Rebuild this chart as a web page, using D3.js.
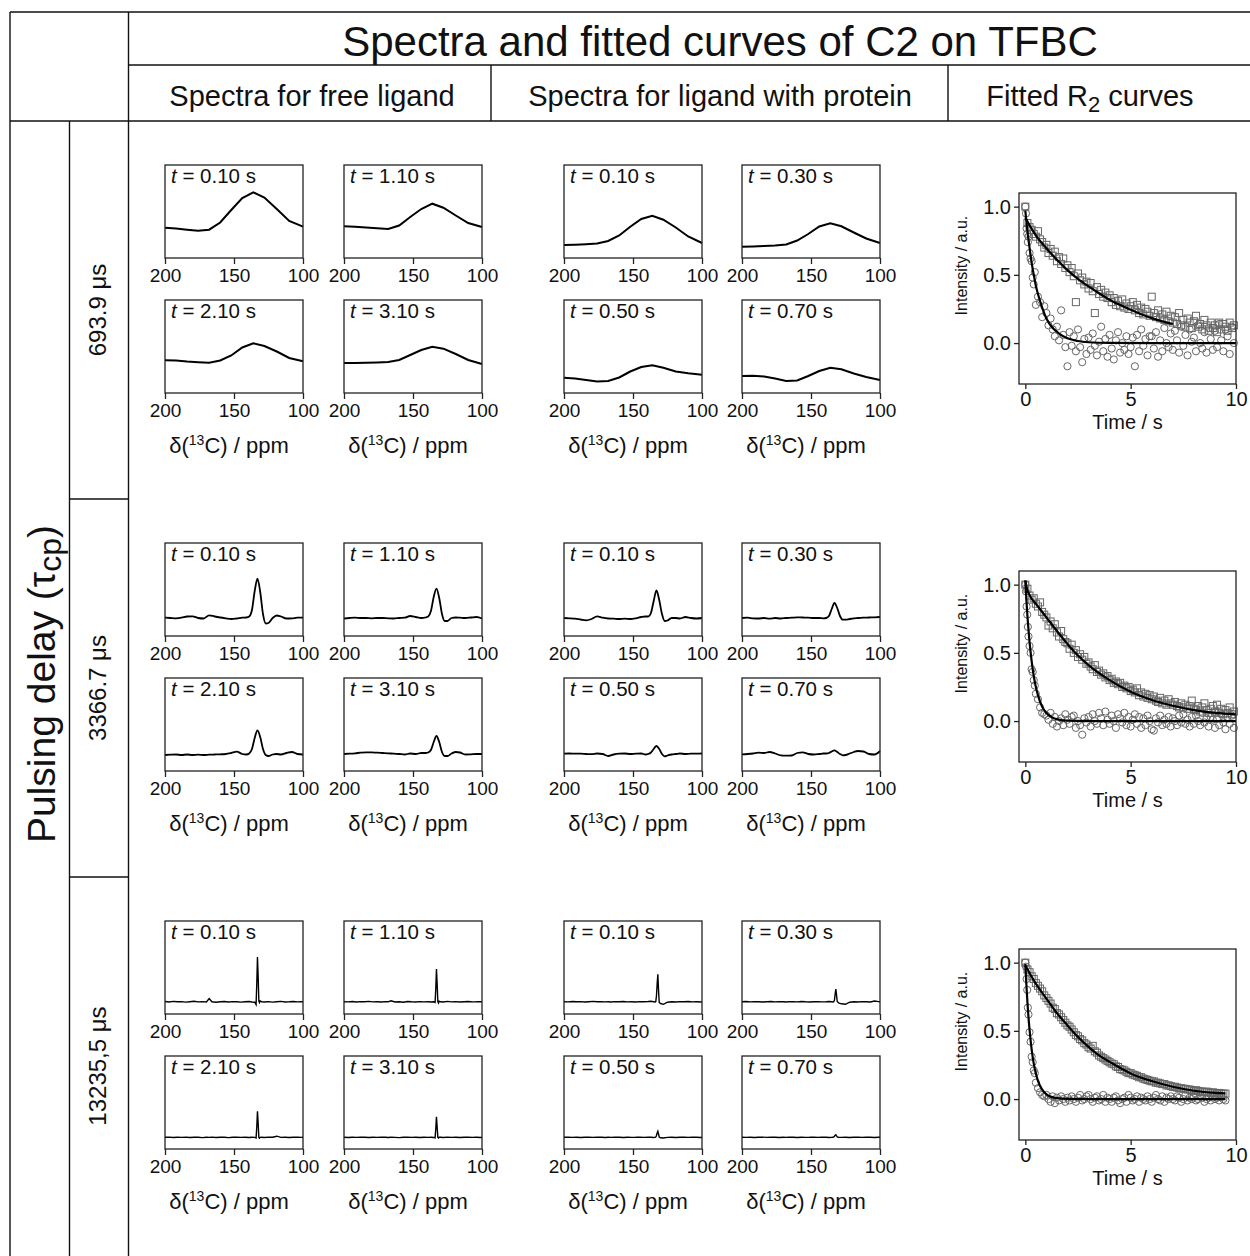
<!DOCTYPE html>
<meta charset="utf-8">
<script src="https://cdn.jsdelivr.net/npm/d3@7"></script>

<style type="text/css">
body {
  margin: 0;
  background: #fff;
  font-family: "Liberation Sans", Arial, sans-serif;
}
text { fill: #111; }
.frame line { stroke: #111; stroke-width: 1.4px; }
.box { fill: none; stroke: #222; stroke-width: 1.3px; }
.spec { fill: none; stroke: #000; }
.axis path { display: none; }
.axis line { stroke: #222; stroke-width: 1.3px; }
.axis text { font-size: 19px; font-family: "Liberation Sans", Arial, sans-serif; fill: #111; }
.r2axis text { font-size: 20px; }
.pt { fill: none; stroke: #666; stroke-width: 1px; }
.fit { fill: none; stroke: #000; stroke-width: 2.2px; }
</style>

<body>
<script>

// ---- data ----
var DELAYS = ["693.9 μs", "3366.7 μs", "13235,5 μs"];
var FREE_TIMES = ["0.10", "1.10", "2.10", "3.10"];
var PROT_TIMES = ["0.10", "0.30", "0.50", "0.70"];

// chemical shift grids (ppm) for each pulsing delay
var PPM_R1 = [200,192,184,176,168,160,152,144,136,128,119,110,100];
var PPM_R2 = [200,196,192,188,184,180,176,172,168,164,160,156,152,148,144,141,139,137,135,133,131,129,127,125,122,119,116,112,108,104,100];
var PPM_R3 = [200,197,194,191,188,185,182,179,176,173,170,168,166,163,160,157,154,151,148,145,142,139,137,135,134,133.5,133,132.5,132,131.5,131,130,128,125,122,119,116,113,110,107,104,101,100];

// spectrum intensities (a.u.; 0 = frame bottom, 93 = frame top)
var FREE_R1 = [
  [30.3,29.5,28.3,27.3,28.3,35.5,48,60,65.7,60.5,49,37,31.3],
  [31.7,31.2,30.5,29.8,29,32.5,41,49,54.3,50.3,42.5,35,31],
  [32.7,32.5,31.5,30.8,30.3,32.5,37.5,45.5,49.7,47,41.5,35,31.7],
  [30,30,30.2,30.5,31,33,38,43,46.3,44.3,39,33,29]
];
var PROT_R1 = [
  [13,13.3,13.8,14.5,17,22.5,31.3,39,42.3,38.3,30.5,21.5,15],
  [11.3,11.6,12,12.5,13.5,17.5,24,31.5,34.7,31.7,25.5,19.5,15],
  [15.3,14.5,13,11.5,12,15.5,21.5,26,27.7,25.3,21.5,19.7,18.3],
  [17,17.3,16.5,14.5,12,12.5,17,22,25.3,23.7,19.5,16,13]
];
var FREE_R2 = [
  [18.3,18,17.7,18.3,19.5,19.7,18,17.5,20.7,19.5,18.5,17.7,17,17.5,18.3,18.5,19.5,26,45,57.3,44,22,12.5,13,18,20.5,19.5,17.5,17.7,18.3,18.3],
  [17.5,18,18.3,18,18,17.7,18,18,17.7,17.5,18,18.3,20,19,18,18.5,19.5,25,39,47.3,38,22,15,15,18,18.5,18.3,18,18.5,19,17.5],
  [16,16.3,16.5,16,16.5,16,16.3,16,16.3,16.5,16.7,17,18,19.3,17,16.5,17.5,22,33,40.7,34,22,16,15,16.5,17,16.5,18,19,17,16.5],
  [17,17.3,17.7,18.3,18.7,18.7,18.3,18,17.7,17.3,17,16.5,17.5,17,18,18,18.5,21,29,35,29,19,15,15,17.5,19,18.5,16.5,16.7,17,17]
];
var PROT_R2 = [
  [18,17.7,17.3,16.5,15.7,17,19.7,18.3,17.5,17.3,17,17.3,17,17.7,19,19.5,19.5,23,35,45.7,36,22,15,15.5,18,18,17.5,19,18,17.5,18],
  [18,18.3,17.7,17.5,18,17.3,18,17.5,18,18.3,18.7,18.5,18.3,18,18,17.7,18,20,27,33,28,20,16.3,16.3,17,17.7,18,18.3,18.5,18.7,19],
  [17.3,17.5,17.3,17.3,17,16.8,17.5,17,15,16.5,17.3,17.5,17,17.3,17.5,16.5,17,18.5,22,25,22,17,14.7,15.5,16.5,17,17.5,17,17.3,17.3,17.5],
  [16.7,17,17.5,18.3,18,19,17.5,15.7,15.3,15.5,18,18.7,17,16.5,17,17.5,17.5,18,19.5,20.7,19,17,15.7,16,17.5,19,20,19.5,17,16.5,20]
];
var FREE_R3 = [
  [12.5,12.0,12.6,12.2,12.4,11.9,12.3,12.7,12.1,12.4,12.0,15.5,12.2,11.8,12.3,12.5,12.0,12.4,12.2,11.9,12.3,12.5,12.0,11.8,9.5,30,57,38,13,11.5,13.0,12.3,12.0,12.4,11.9,12.3,12.6,12.0,12.2,12.5,12.1,12.4,12.3],
  [12.3,12.1,12.5,12.0,12.4,12.2,12.6,12.1,12.3,12.0,12.4,12.2,13.2,12.0,12.3,11.8,12.5,12.2,12.0,12.4,12.1,12.3,12.0,12.2,11.5,25,45,30,12.5,11.0,12.8,12.2,12.0,12.6,12.1,12.4,12.0,12.3,12.5,12.1,12.2,12.4,12.0],
  [11.7,11.9,11.5,11.8,11.6,11.9,11.5,11.8,11.7,11.4,11.8,11.6,11.9,11.5,11.7,11.8,11.4,11.7,11.9,11.6,11.8,11.5,11.7,11.6,11.0,22,37.7,26,11.5,10.8,11.6,11.8,11.5,11.9,11.7,12.8,11.6,11.8,11.5,11.7,11.9,11.6,11.7],
  [11.7,11.5,11.8,11.6,11.9,11.7,11.5,11.8,11.6,11.9,11.7,11.5,11.8,11.6,11.4,11.7,11.9,11.6,11.8,11.5,11.7,11.6,11.8,11.5,11.2,20,32.3,22,11.6,11.0,11.7,11.8,11.5,11.9,11.6,11.8,11.5,11.7,11.9,11.6,11.8,11.5,11.7]
];
var PROT_R3 = [
  [12.3,12.1,12.5,12.2,12.4,12.0,12.3,12.6,12.2,12.4,12.1,12.3,12.0,12.4,12.2,12.5,12.1,12.3,12.0,12.4,12.2,12.5,12.8,12.3,12.0,12.5,18,30,39.7,24,11.5,10.5,9.7,11.8,12.3,12.0,12.4,12.2,12.5,12.1,12.3,12.0,12.4],
  [12.3,12.5,12.1,12.4,12.2,12.0,12.3,12.5,12.1,12.4,12.2,12.0,12.4,12.3,12.1,12.5,12.2,12.0,12.3,12.4,12.1,12.3,12.5,12.2,12.0,12.3,14,20,25,19,12.5,11.0,10.2,9.7,11.8,12.2,12.0,12.4,12.2,12.0,13.0,12.4,12.3],
  [11.7,11.9,11.6,11.8,11.5,11.7,11.9,11.6,11.8,11.7,11.5,11.8,11.6,11.9,11.7,11.5,11.8,11.6,11.7,11.9,11.6,11.8,11.7,11.5,11.6,12.0,13.5,16,17.7,15,12.0,11.2,11.0,11.6,11.8,11.5,11.7,11.9,11.6,11.8,11.7,11.5,11.8],
  [11.7,11.6,11.8,11.5,11.7,11.9,11.6,11.8,11.7,11.5,11.8,11.6,11.9,11.7,11.5,11.8,11.6,11.7,11.9,11.6,11.8,11.7,11.5,11.6,11.7,12.0,12.8,13.8,14.3,13.2,12.2,11.8,11.6,11.8,11.5,11.7,11.9,11.6,11.8,11.7,11.5,11.8,11.7]
];

// R2 decay: acquisition times (s)
var T_EARLY = [0,0.03,0.06,0.09,0.12,0.15,0.2,0.25,0.3,0.35,0.4,0.45,0.5,0.6,0.7,0.8,0.9];
var T_SQUARE = d3.range(0, 100).map(function(i){ return i / 10; });
var T_CIRCLE = T_EARLY.concat(d3.range(10, 100).map(function(i){ return i / 10; }));

// squares = free ligand, circles = ligand with protein (normalised intensity)
var SQ_R1 = [1.00,0.88,0.85,0.83,0.80,0.78,0.82,0.76,0.74,0.70, 0.72,0.66,0.69,0.64,0.67,0.60,0.63,0.58,0.62,0.55,
  0.57,0.52,0.55,0.49,0.30,0.51,0.46,0.48,0.43,0.45, 0.40,0.44,0.38,0.22,0.41,0.36,0.39,0.34,0.37,0.33,
  0.35,0.30,0.33,0.28,0.31,0.27,0.32,0.26,0.29,0.25, 0.27,0.30,0.24,0.28,0.22,0.26,0.21,0.25,0.23,0.20,
  0.34,0.22,0.19,0.24,0.18,0.21,0.17,0.23,0.16,0.20, 0.15,0.19,0.14,0.22,0.13,0.17,0.12,0.18,0.15,0.11,
  0.16,0.20,0.12,0.14,0.10,0.17,0.13,0.09,0.15,0.11, 0.13,0.08,0.15,0.10,0.14,0.12,0.09,0.15,0.11,0.13];
var CI_R1 = [1.00,0.95,0.84,0.80,0.74,0.78,0.66,0.62,0.60,0.48,0.43,0.52,0.28,0.34,0.30,0.19,0.27,
  0.22,0.13,0.18,0.10,0.05,0.12,0.02,0.24,0.06,-0.03, -0.17,0.08,-0.02,0.05,-0.06,0.10,-0.03,-0.14,0.03,-0.08,
  0.04,-0.05,0.07,-0.02,-0.09,0.01,0.12,-0.06,0.03,-0.10, 0.06,-0.04,-0.12,0.02,0.08,-0.07,0.00,-0.05,0.05,-0.08,
  -0.03,0.04,-0.17,0.06,-0.06,0.10,-0.02,0.03,-0.09,0.05, 0.05,-0.04,0.08,-0.10,0.02,-0.06,0.11,0.00,-0.03,0.07,
  -0.05,0.09,0.02,-0.07,0.12,-0.02,0.06,-0.09,0.10,0.01, 0.04,-0.06,0.13,0.00,-0.04,0.08,-0.07,0.11,0.03,-0.05,
  0.09,-0.03,0.14,0.02,-0.06,0.10,0.05,-0.08,0.12,0.00];
var SQ_R2 = [1.00,0.97,0.92,0.89,0.90,0.86,0.84,0.87,0.80,0.78, 0.76,0.70,0.73,0.68,0.71,0.65,0.62,0.66,0.60,0.58,
  0.57,0.53,0.56,0.50,0.52,0.47,0.49,0.45,0.47,0.42, 0.43,0.40,0.38,0.41,0.36,0.37,0.34,0.35,0.32,0.33,
  0.30,0.31,0.28,0.29,0.27,0.28,0.25,0.26,0.24,0.25, 0.22,0.23,0.21,0.24,0.19,0.21,0.18,0.20,0.17,0.19,
  0.16,0.18,0.15,0.14,0.17,0.13,0.15,0.12,0.16,0.13, 0.12,0.14,0.11,0.10,0.13,0.10,0.12,0.09,0.11,0.15,
  0.09,0.08,0.11,0.07,0.10,0.13,0.08,0.06,0.09,0.11, 0.07,0.12,0.06,0.09,0.05,0.08,0.06,0.10,0.05,0.07];
var CI_R2 = [1.00,0.95,0.84,0.78,0.69,0.62,0.55,0.50,0.38,0.36,0.30,0.26,0.20,0.16,0.10,0.06,0.05,
  0.04,0.01,0.06,-0.02,0.03,-0.04,0.00,0.02,-0.03,0.05, 0.01,-0.02,0.03,0.04,-0.05,0.00,-0.03,-0.10,0.02,-0.01,
  0.03,-0.04,0.05,0.00,-0.02,0.06,0.02,-0.03,0.07,0.01, -0.02,0.04,0.00,-0.05,0.05,0.02,-0.01,0.06,-0.03,0.03,
  -0.04,0.01,0.05,-0.02,0.03,-0.05,0.02,-0.03,0.04,0.00, -0.06,-0.07,0.02,-0.01,0.04,-0.03,0.01,-0.02,0.03,-0.04,
  0.02,0.00,-0.03,0.04,-0.01,0.05,-0.02,0.01,-0.04,0.03, -0.02,0.04,0.00,-0.03,0.06,-0.01,0.02,-0.04,0.03,0.01,
  -0.05,0.02,-0.03,0.05,-0.01,-0.06,0.03,-0.02,0.04,-0.05];
var SQ_R3 = [1.00,0.95,0.93,0.90,0.88,0.85,0.83,0.81,0.79,0.76, 0.74,0.72,0.70,0.67,0.66,0.63,0.62,0.60,0.58,0.56,
  0.54,0.53,0.51,0.49,0.47,0.46,0.44,0.43,0.41,0.40, 0.38,0.37,0.39,0.35,0.34,0.32,0.31,0.30,0.29,0.28,
  0.27,0.26,0.255,0.24,0.235,0.22,0.215,0.21,0.20,0.19, 0.19,0.18,0.175,0.17,0.16,0.16,0.15,0.145,0.14,0.135,
  0.13,0.13,0.12,0.12,0.115,0.11,0.11,0.10,0.10,0.095, 0.09,0.09,0.085,0.08,0.08,0.075,0.075,0.07,0.07,0.065,
  0.06,0.065,0.06,0.055,0.055,0.05,0.055,0.05,0.045,0.05, 0.045,0.04,0.045,0.04,0.04,0.04];
var CI_R3 = [1.00,0.97,0.88,0.80,0.67,0.62,0.49,0.42,0.31,0.27,0.21,0.19,0.12,0.08,0.05,0.03,0.02,
  0.03,0.00,-0.02,0.02,-0.03,0.01,-0.01,0.02,0.00,-0.02, 0.01,-0.01,0.02,0.00,-0.02,0.01,0.03,-0.01,0.00,0.02,
  0.03,0.00,-0.02,0.01,0.02,-0.01,0.00,0.03,-0.02,0.01, 0.00,-0.02,0.01,0.02,-0.01,-0.03,0.00,0.01,-0.02,0.03,
  0.01,-0.01,0.00,0.02,-0.02,0.01,0.00,-0.01,0.02,0.00, -0.02,0.01,0.03,0.00,-0.01,0.02,-0.02,0.01,0.00,0.02,
  0.00,-0.01,0.02,0.01,-0.02,0.00,0.03,-0.01,0.01,0.00, 0.02,-0.01,0.00,0.03,0.01,-0.02,0.00,0.01,-0.01,0.02,
  0.00,0.01,-0.01,0.02,0.00,-0.01];

// fitted curves, read at a few times
var FIT_CI_T1 = [0,0.1,0.2,0.3,0.4,0.5,0.6,0.8,1.0,1.3,1.6,2.0,2.5,3.0,4,6,8,10];
var FIT_CI_Y1 = [0.97,0.82,0.70,0.59,0.50,0.42,0.36,0.26,0.18,0.11,0.07,0.035,0.015,0.006,0.001,0,0,0];
var FIT_SQ_T1 = [0,0.25,0.5,1,1.5,2,2.5,3,3.5,4,5,6,7];
var FIT_SQ_Y1 = [0.92,0.85,0.79,0.695,0.61,0.535,0.47,0.415,0.365,0.317,0.245,0.183,0.14];
var FIT_CI_T2 = [0,0.05,0.1,0.15,0.2,0.3,0.4,0.5,0.6,0.8,1.0,1.3,1.6,2,3,5,10];
var FIT_CI_Y2 = [1.03,0.89,0.77,0.67,0.58,0.44,0.33,0.25,0.19,0.105,0.059,0.025,0.01,0.003,0,0,0];
var FIT_SQ_T2 = [0,0.1,0.25,0.5,1,1.5,2,2.5,3,4,5,6,7,8,9,10];
var FIT_SQ_Y2 = [1.03,0.96,0.91,0.86,0.76,0.66,0.565,0.48,0.41,0.30,0.215,0.155,0.112,0.08,0.06,0.049];
var FIT_CI_T3 = [0,0.05,0.1,0.15,0.2,0.3,0.4,0.5,0.6,0.8,1.0,1.2,1.5,2,3,5,9.5];
var FIT_CI_Y3 = [0.99,0.84,0.71,0.60,0.51,0.365,0.26,0.187,0.134,0.069,0.035,0.018,0.007,0.001,0,0,0];
var FIT_SQ_T3 = [0,0.25,0.5,1,1.5,2,2.5,3,3.5,4,5,6,7,8,9,9.5];
var FIT_SQ_Y3 = [0.98,0.91,0.846,0.737,0.63,0.54,0.455,0.383,0.32,0.273,0.188,0.132,0.09,0.061,0.045,0.041];

var SPEC_TICKS = [200, 150, 100],
    R2_XTICKS = [0, 5, 10],
    R2_YTICKS = [0, 0.5, 1.0];

// ---- layout ----
var W = 1250, H = 1256,
    rowStep = 378,
    specLeft = [165, 344, 564, 742],
    specW = 138, specH = 93,
    specTop = 165, subStep = 135,
    r2 = {left: 1019, top: 193, w: 217, h: 191};

var rows = [
  {ppm: PPM_R1, free: FREE_R1, prot: PROT_R1, curve: d3.curveLinear, lw: 2,
   sq: SQ_R1, ci: CI_R1, fitSq: [FIT_SQ_T1, FIT_SQ_Y1], fitCi: [FIT_CI_T1, FIT_CI_Y1]},
  {ppm: PPM_R2, free: FREE_R2, prot: PROT_R2, curve: d3.curveMonotoneX, lw: 1.8,
   sq: SQ_R2, ci: CI_R2, fitSq: [FIT_SQ_T2, FIT_SQ_Y2], fitCi: [FIT_CI_T2, FIT_CI_Y2]},
  {ppm: PPM_R3, free: FREE_R3, prot: PROT_R3, curve: d3.curveLinear, lw: 1.4,
   sq: SQ_R3, ci: CI_R3, fitSq: [FIT_SQ_T3, FIT_SQ_Y3], fitCi: [FIT_CI_T3, FIT_CI_Y3]}
];

var svg = d3.select("body").append("svg")
    .attr("width", W)
    .attr("height", H);

// table frame
var frame = svg.append("g").attr("class", "frame");
[[10, 12, 1250, 12], [10, 12, 10, H], [128.5, 12, 128.5, H], [69.5, 121, 69.5, H],
 [128.5, 65, 1250, 65], [10, 121, 1250, 121], [491, 65, 491, 121], [948, 65, 948, 121],
 [69.5, 499, 128.5, 499], [69.5, 877, 128.5, 877]].forEach(function(l){
  frame.append("line").attr("x1", l[0]).attr("y1", l[1]).attr("x2", l[2]).attr("y2", l[3]);
});

// headers
svg.append("text").attr("x", 720).attr("y", 56).attr("text-anchor", "middle")
    .style("font-size", "42px").text("Spectra and fitted curves of C2 on TFBC");
svg.append("text").attr("x", 312).attr("y", 106).attr("text-anchor", "middle")
    .style("font-size", "29px").text("Spectra for free ligand");
svg.append("text").attr("x", 720).attr("y", 106).attr("text-anchor", "middle")
    .style("font-size", "29px").text("Spectra for ligand with protein");
var fr = svg.append("text").attr("x", 1090).attr("y", 106).attr("text-anchor", "middle")
    .style("font-size", "29px").text("Fitted R");
fr.append("tspan").attr("dy", 6).style("font-size", "22px").text("2");
fr.append("tspan").attr("dy", -6).text(" curves");

var pd = svg.append("text").attr("transform", "translate(55,684) rotate(-90)")
    .attr("text-anchor", "middle").style("font-size", "39px").text("Pulsing delay (τ");
pd.append("tspan").attr("dy", 6).style("font-size", "32px").text("cp");
pd.append("tspan").attr("dy", -6).text(")");

// spectra frame scales
var xs = d3.scaleLinear().domain([200, 100]).range([0, specW]);
var ys = d3.scaleLinear().domain([0, 93]).range([specH, 0]);

var rx = d3.scaleLinear().domain([-0.3, 10]).range([0, r2.w]);
var ry = d3.scaleLinear().domain([-0.3, 1.1]).range([r2.h, 0]);

rows.forEach(function(row, r) {
  var y0 = r * rowStep;

  svg.append("text")
      .attr("transform", "translate(98," + (310 + y0) + ") rotate(-90)")
      .attr("text-anchor", "middle").attr("dy", "0.35em")
      .style("font-size", "24px").text(DELAYS[r]);

  var line = d3.line()
      .x(function(d) { return xs(d[0]); })
      .y(function(d) { return ys(d[1]); })
      .curve(row.curve);

  for (var c = 0; c < 4; c++) {
    for (var s = 0; s < 2; s++) {
      var k = s * 2 + (c % 2),
          vals = c < 2 ? row.free[k] : row.prot[k],
          label = c < 2 ? FREE_TIMES[k] : PROT_TIMES[k];
      var g = svg.append("g")
          .attr("transform", "translate(" + specLeft[c] + "," + (specTop + y0 + s * subStep) + ")");

      g.append("path").attr("class", "spec")
          .style("stroke-width", row.lw + "px")
          .attr("d", line(row.ppm.map(function(p, i) { return [p, vals[i]]; })));

      g.append("rect").attr("class", "box").attr("width", specW).attr("height", specH);

      g.append("g").attr("class", "axis")
          .attr("transform", "translate(0," + specH + ")")
          .call(d3.axisBottom(xs).tickValues(SPEC_TICKS).tickSize(6).tickPadding(5));

      var lt = g.append("text").attr("x", 6).attr("y", 18).style("font-size", "20.5px");
      lt.append("tspan").style("font-style", "italic").text("t");
      lt.append("tspan").text(" = " + label + " s");

      if (s === 1) {
        var xl = g.append("text").attr("x", specW / 2 - 5).attr("y", 153)
            .attr("text-anchor", "middle").style("font-size", "22px").text("δ(");
        xl.append("tspan").attr("dy", -8).style("font-size", "14px").text("13");
        xl.append("tspan").attr("dy", 8).text("C) / ppm");
      }
    }
  }

  // fitted R2 panel
  var p = svg.append("g")
      .attr("transform", "translate(" + r2.left + "," + (r2.top + y0) + ")");

  p.append("g").selectAll("rect")
      .data(row.sq.map(function(v, i) { return [T_SQUARE[i], v]; }))
    .enter().append("rect").attr("class", "pt")
      .attr("x", function(d) { return rx(d[0]) - 3.5; })
      .attr("y", function(d) { return ry(d[1]) - 3.5; })
      .attr("width", 7).attr("height", 7);

  p.append("g").selectAll("circle")
      .data(row.ci.map(function(v, i) { return [T_CIRCLE[i], v]; }))
    .enter().append("circle").attr("class", "pt")
      .attr("cx", function(d) { return rx(d[0]); })
      .attr("cy", function(d) { return ry(d[1]); })
      .attr("r", 3.6);

  var fline = d3.line()
      .x(function(d) { return rx(d[0]); })
      .y(function(d) { return ry(d[1]); })
      .curve(d3.curveMonotoneX);
  [row.fitSq, row.fitCi].forEach(function(f) {
    p.append("path").attr("class", "fit")
        .attr("d", fline(f[0].map(function(t, i) { return [t, f[1][i]]; })));
  });

  p.append("rect").attr("class", "box").attr("width", r2.w).attr("height", r2.h);

  p.append("g").attr("class", "axis r2axis")
      .attr("transform", "translate(0," + r2.h + ")")
      .call(d3.axisBottom(rx).tickValues(R2_XTICKS).tickSize(5).tickPadding(3));
  p.append("g").attr("class", "axis r2axis")
      .call(d3.axisLeft(ry).tickValues(R2_YTICKS).tickFormat(d3.format(".1f")).tickSize(5).tickPadding(3));

  p.append("text").attr("x", r2.w / 2).attr("y", 45 + r2.h)
      .attr("text-anchor", "middle").style("font-size", "20px").text("Time / s");
  p.append("text").attr("transform", "translate(-52," + (r2.h * 0.38) + ") rotate(-90)")
      .attr("text-anchor", "middle").style("font-size", "16px").text("Intensity / a.u.");
});

</script>
</body>
</html>
